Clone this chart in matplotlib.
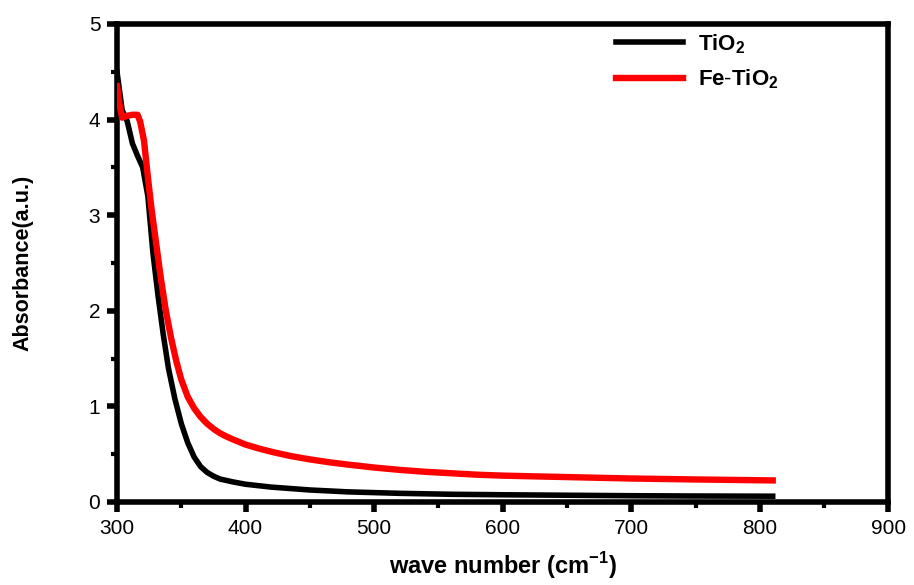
import matplotlib
matplotlib.use("Agg")
import matplotlib.pyplot as plt
from matplotlib.ticker import MultipleLocator

plt.rcParams['font.family'] = ['Liberation Sans', 'DejaVu Sans']
plt.rcParams['mathtext.fontset'] = 'custom'
plt.rcParams['mathtext.rm'] = 'Liberation Sans'
plt.rcParams['mathtext.bf'] = 'Liberation Sans:bold'

# Data
tio2_x = [300, 304, 308, 312, 316, 320, 324, 328, 332, 336, 340, 345, 350, 355,
          360, 365, 370, 375, 380, 390, 400, 420, 450, 480, 520, 560, 600, 650,
          700, 750, 810]
tio2_y = [4.50, 4.10, 3.98, 3.75, 3.62, 3.50, 3.20, 2.60, 2.15, 1.75, 1.40, 1.08,
          0.82, 0.62, 0.47, 0.37, 0.31, 0.27, 0.24, 0.21, 0.185, 0.155, 0.125,
          0.105, 0.09, 0.08, 0.075, 0.07, 0.065, 0.062, 0.06]

fe_x = [300, 302, 304, 308, 312, 316, 318, 321, 324, 327, 330, 334, 338, 342,
        346, 350, 355, 360, 365, 370, 375, 380, 385, 390, 400, 410, 420, 435,
        450, 465, 480, 500, 520, 540, 560, 580, 600, 650, 700, 750, 810]
fe_y = [4.35, 4.15, 4.02, 4.04, 4.05, 4.05, 3.98, 3.78, 3.40, 3.05, 2.75, 2.35,
        2.00, 1.72, 1.48, 1.28, 1.10, 0.98, 0.89, 0.82, 0.765, 0.72, 0.685, 0.655,
        0.60, 0.56, 0.525, 0.48, 0.445, 0.415, 0.39, 0.36, 0.335, 0.315, 0.30,
        0.285, 0.275, 0.26, 0.245, 0.235, 0.225]

xticks = [300, 400, 500, 600, 700, 800, 900]
yticks = [0, 1, 2, 3, 4, 5]

fig = plt.figure(figsize=(9.14, 5.85), dpi=100)
ax = fig.add_axes([0.128, 0.142, 0.844, 0.817])

ax.plot(tio2_x, tio2_y, color='black', lw=4.0, label=r'$\mathbf{TiO_2}$',
        solid_joinstyle='round', zorder=3)
ax.plot(fe_x, fe_y, color='#ff0000', lw=4.6, label=r'$\mathbf{Fe\text{-}TiO_2}$',
        solid_joinstyle='round', zorder=4)

ax.set_xlim(300, 900)
ax.set_ylim(0, 5)
ax.set_xticks(xticks)
ax.set_yticks(yticks)
ax.xaxis.set_minor_locator(MultipleLocator(50))
ax.yaxis.set_minor_locator(MultipleLocator(0.5))

for s in ax.spines.values():
    s.set_linewidth(4.0)
ax.tick_params(which='major', direction='out', length=7, width=4, labelsize=15,
               top=False, right=False, pad=5)
ax.tick_params(which='minor', direction='out', length=4, width=3,
               top=False, right=False)

ax.set_xlabel(r'wave number (cm$^{\mathbf{-1}}$)', fontsize=17, fontweight='bold',
              labelpad=9)
ax.set_ylabel('Absorbance(a.u.)', fontsize=15.5, fontweight='bold', labelpad=40)

leg = ax.legend(loc='upper left', bbox_to_anchor=(0.621, 1.025), frameon=False,
                fontsize=16, handlelength=3.0, handletextpad=0.7, labelspacing=0.55)

fig.savefig('out.png', dpi=100)
